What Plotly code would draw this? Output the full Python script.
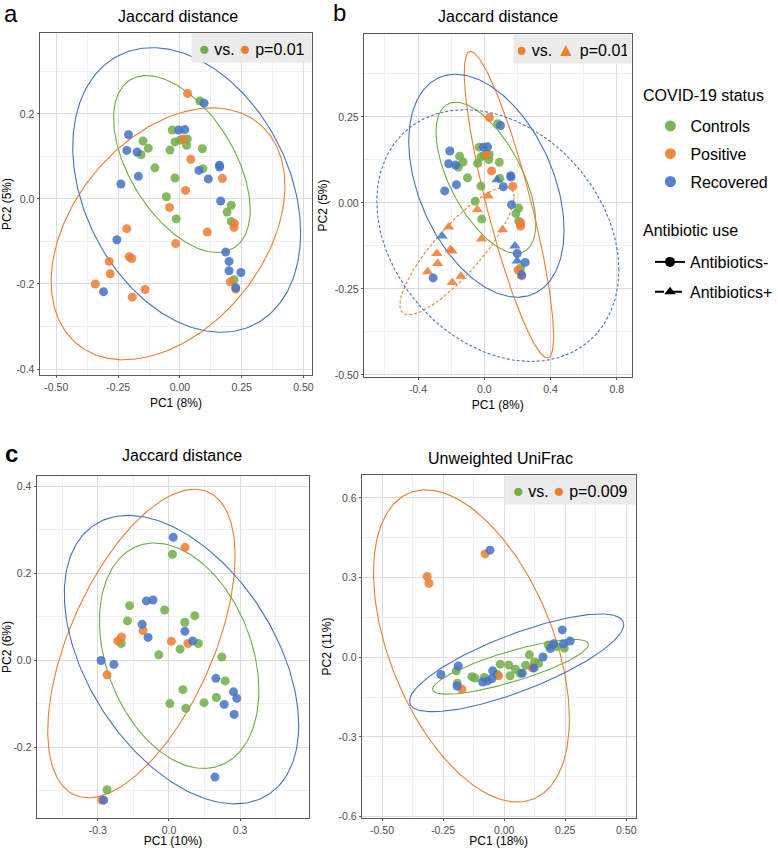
import numpy as np
import plotly.graph_objects as go

GREEN = "#70AD47"
ORANGE = "#ED7D31"
BLUE = "#4472C4"
FONT = "Liberation Sans, Arial, sans-serif"
W, H = 778, 848

# ---- Jaccard PCoA (panels a and b share the same ordination) ----
jac_ctrl_x = [0.081, -0.031, -0.020, 0.000, 0.030, 0.027, -0.040, 0.091, -0.149, -0.128,
              -0.157, -0.101, -0.020, 0.093, -0.055, -0.015, 0.208, 0.191, 0.208, 0.219]
jac_ctrl_y = [0.230, 0.162, 0.134, 0.138, 0.141, 0.126, 0.115, 0.118, 0.136, 0.119,
              0.104, 0.073, 0.049, 0.071, 0.005, -0.047, -0.015, -0.031, -0.053, -0.190]

jac_pos_x = [0.031, 0.044, 0.172, 0.023, -0.042, 0.111, -0.017, -0.215, -0.205, -0.195,
             -0.286, -0.282, -0.342, -0.193, -0.141, 0.221, 0.219, 0.204, 0.226, 0.013]
jac_pos_y = [0.248, 0.093, 0.048, 0.020, -0.020, -0.078, -0.105, -0.070, -0.136, -0.140,
             -0.147, -0.176, -0.200, -0.231, -0.213, -0.058, -0.067, -0.195, -0.212, 0.141]
jac_pos_abx = [0, 0, 0, 1, 1, 1, 1, 1, 1, 1, 1, 1, 1, 1, 1, 0, 0, 0, 0, 0]

jac_rec_x = [0.098, -0.005, 0.020, -0.208, -0.215, -0.173, -0.168, -0.239, 0.160, 0.161,
             0.077, 0.115, 0.165, -0.255, 0.185, 0.199, 0.199, 0.247, -0.309, 0.226]
jac_rec_y = [0.225, 0.162, 0.163, 0.151, 0.114, 0.110, 0.053, 0.035, 0.079, 0.075,
             0.067, 0.047, -0.005, -0.096, -0.125, -0.147, -0.169, -0.173, -0.218, -0.209]
jac_rec_abx = [0, 0, 0, 0, 0, 0, 0, 0, 0, 0, 1, 0, 0, 1, 1, 0, 1, 0, 0, 0]

# ---- panel c, Jaccard ----
cj_ctrl_x = [0.015, -0.166, -0.018, -0.175, 0.109, 0.067, -0.201, 0.124, 0.047, -0.043,
             0.223, 0.237, 0.059, 0.004, 0.071, 0.148, 0.200, -0.261]
cj_ctrl_y = [0.243, 0.125, 0.115, 0.090, 0.102, 0.087, 0.038, 0.038, 0.025, 0.012,
             0.007, -0.048, -0.068, -0.100, -0.111, -0.098, -0.086, -0.298]
cj_pos_x = [0.068, -0.109, -0.200, -0.216, 0.010, 0.080, -0.261, -0.283]
cj_pos_y = [0.259, 0.068, 0.053, 0.044, 0.043, 0.038, -0.034, -0.322]
cj_rec_x = [0.018, -0.095, -0.067, -0.113, -0.088, 0.067, 0.100, -0.286, -0.232, 0.198,
            0.272, 0.286, 0.233, 0.275, 0.194, -0.275]
cj_rec_y = [0.282, 0.136, 0.138, 0.082, 0.052, 0.066, 0.044, -0.001, -0.010, -0.042,
            -0.073, -0.088, -0.102, -0.125, -0.269, -0.322]

# ---- panel c, unweighted UniFrac ----
cu_ctrl_x = [-0.196, -0.192, -0.132, -0.119, -0.081, -0.030, -0.016, 0.019, 0.024, 0.046,
             0.065, 0.088, 0.103, 0.124, 0.141, 0.181, 0.214, 0.246]
cu_ctrl_y = [-0.051, -0.098, -0.073, -0.078, -0.076, -0.064, -0.026, -0.029, -0.070, -0.045,
             -0.060, -0.030, 0.009, -0.018, -0.023, 0.046, 0.040, 0.035]
cu_pos_x = [-0.078, -0.315, -0.308, -0.173, -0.023, 0.115]
cu_pos_y = [0.389, 0.304, 0.278, -0.120, -0.070, -0.040]
cu_rec_x = [-0.058, 0.238, -0.259, -0.188, -0.193, -0.088, -0.068, -0.050, -0.047, 0.074,
            0.122, 0.159, 0.189, 0.203, 0.243, 0.270]
cu_rec_y = [0.403, 0.103, -0.065, -0.033, -0.108, -0.093, -0.089, -0.080, -0.051, -0.060,
            -0.040, 0.001, 0.033, 0.051, 0.051, 0.061]

# ellipses: centre x, centre y, half width, half height, y offset of rightmost point
ell_a_ctrl = [0.008, 0.082, 0.2765, 0.208, -0.1075]
ell_a_pos = [-0.048, -0.082, 0.473, 0.296, 0.112]
ell_a_rec = [0.0275, 0.021, 0.461, 0.3345, -0.101]
ell_b_ctrl = [0.010, 0.073, 0.3016, 0.2196, -0.1327]
ell_b_rec = [0.013, 0.050, 0.469, 0.324, -0.129]
ell_b_pos = [0.149, -0.005, 0.270, 0.4455, -0.3827]
ell_b_pos_abx = [-0.165, -0.1395, 0.345, 0.1858, 0.1569]
ell_b_rec_abx = [0.082, -0.095, 0.731, 0.3658, -0.100]
ell_cj_ctrl = [0.043, 0.010, 0.336, 0.259, -0.080]
ell_cj_rec = [0.053, 0.001, 0.494, 0.3315, -0.151]
ell_cj_pos = [-0.116, 0.038, 0.395, 0.3546, 0.201]
ell_cu_ctrl = [0.026, -0.036, 0.319, 0.103, 0.084]
ell_cu_rec = [0.051, -0.021, 0.4385, 0.184, 0.144]
ell_cu_pos = [-0.134, 0.0425, 0.401, 0.5875, -0.275]


def ellipse(p):
    cx, cy, hw, hh, dyr = p
    t = np.linspace(0, 2 * np.pi, 240)
    c = np.sqrt(max(hh ** 2 - dyr ** 2, 0))
    return cx + hw * np.cos(t), cy + dyr * np.cos(t) + c * np.sin(t)


def pick(vals, flags, f):
    return [v for v, g in zip(vals, flags) if g == f]


fig = go.Figure()


def add_ell(p, color, ax, dash="solid"):
    ex, ey = ellipse(p)
    fig.add_trace(go.Scatter(x=ex, y=ey, mode="lines", line=dict(color=color, width=1.1, dash=dash),
                             xaxis="x" + ax, yaxis="y" + ax, showlegend=False, hoverinfo="skip"))


def add_pts(x, y, color, ax, symbol="circle"):
    fig.add_trace(go.Scatter(x=x, y=y, mode="markers", xaxis="x" + ax, yaxis="y" + ax,
                             marker=dict(color=color, size=9 if symbol == "circle" else 10,
                                         symbol=symbol, opacity=0.85, line=dict(width=0)),
                             showlegend=False))


# panel a
add_ell(ell_a_ctrl, GREEN, "")
add_ell(ell_a_pos, ORANGE, "")
add_ell(ell_a_rec, BLUE, "")
add_pts(jac_ctrl_x, jac_ctrl_y, GREEN, "")
add_pts(jac_pos_x, jac_pos_y, ORANGE, "")
add_pts(jac_rec_x, jac_rec_y, BLUE, "")

# panel b
add_ell(ell_b_ctrl, GREEN, "2")
add_ell(ell_b_pos, ORANGE, "2")
add_ell(ell_b_rec, BLUE, "2")
add_ell(ell_b_pos_abx, ORANGE, "2", "3px,2px")
add_ell(ell_b_rec_abx, BLUE, "2", "3px,2px")
add_pts(jac_ctrl_x, jac_ctrl_y, GREEN, "2")
add_pts(pick(jac_pos_x, jac_pos_abx, 0), pick(jac_pos_y, jac_pos_abx, 0), ORANGE, "2")
add_pts(pick(jac_pos_x, jac_pos_abx, 1), pick(jac_pos_y, jac_pos_abx, 1), ORANGE, "2", "triangle-up")
add_pts(pick(jac_rec_x, jac_rec_abx, 0), pick(jac_rec_y, jac_rec_abx, 0), BLUE, "2")
add_pts(pick(jac_rec_x, jac_rec_abx, 1), pick(jac_rec_y, jac_rec_abx, 1), BLUE, "2", "triangle-up")

# panel c left
add_ell(ell_cj_ctrl, GREEN, "3")
add_ell(ell_cj_pos, ORANGE, "3")
add_ell(ell_cj_rec, BLUE, "3")
add_pts(cj_ctrl_x, cj_ctrl_y, GREEN, "3")
add_pts(cj_pos_x, cj_pos_y, ORANGE, "3")
add_pts(cj_rec_x, cj_rec_y, BLUE, "3")

# panel c right
add_ell(ell_cu_ctrl, GREEN, "4")
add_ell(ell_cu_pos, ORANGE, "4")
add_ell(ell_cu_rec, BLUE, "4")
add_pts(cu_ctrl_x, cu_ctrl_y, GREEN, "4")
add_pts(cu_pos_x, cu_pos_y, ORANGE, "4")
add_pts(cu_rec_x, cu_rec_y, BLUE, "4")

# legend entries
for name, col in [("Controls", GREEN), ("Positive", ORANGE), ("Recovered", BLUE)]:
    fig.add_trace(go.Scatter(x=[None], y=[None], mode="markers", name=name, legend="legend",
                             legendgroup=name, marker=dict(color=col, size=11, opacity=0.9)))
for name, sym, dash in [("Antibiotics-", "circle", "solid"), ("Antibiotics+", "triangle-up", "dash")]:
    fig.add_trace(go.Scatter(x=[None], y=[None], mode="lines+markers", name=name, legend="legend2",
                             legendgroup=name, line=dict(color="black", width=2, dash=dash),
                             marker=dict(color="black", size=10, symbol=sym)))


def px_x(p):
    return p / W


def px_y(p):
    return 1 - p / H


def axis(dom, rng, ticks, labels, title, minor_step, anchor, standoff):
    return dict(domain=dom, range=rng, tickmode="array", tickvals=ticks, ticktext=labels,
                showgrid=True, gridcolor="#DCDCDC", gridwidth=1, zeroline=False,
                showline=True, mirror=True, linecolor="#5A5A5A", linewidth=1,
                ticks="outside", ticklen=2, tickcolor="#5A5A5A",
                tickfont=dict(size=10.5, color="#4D4D4D", family=FONT),
                title=dict(text=title, font=dict(size=12, color="black", family=FONT), standoff=standoff),
                minor=dict(tickmode="linear", tick0=ticks[0] - minor_step, dtick=2 * minor_step,
                           showgrid=True, gridcolor="#F0F0F0", ticks=""),
                anchor=anchor, automargin=False)


fig.update_layout(
    xaxis=axis([px_x(40), px_x(316)], [-0.568, 0.536], [-0.5, -0.25, 0, 0.25, 0.5],
               ["-0.50", "-0.25", "0.00", "0.25", "0.50"], "PC1 (8%)", 0.125, "y", 7),
    yaxis=axis([px_y(375), px_y(33)], [-0.414, 0.39], [-0.4, -0.2, 0, 0.2],
               ["-0.4", "-0.2", "0.0", "0.2"], "PC2 (5%)", 0.1, "x", 4),
    xaxis2=axis([px_x(368), px_x(639)], [-0.728, 0.89], [-0.4, 0, 0.4, 0.8],
                ["-0.4", "0.0", "0.4", "0.8"], "PC1 (8%)", 0.2, "y2", 7),
    yaxis2=axis([px_y(377), px_y(34)], [-0.506, 0.491], [-0.5, -0.25, 0, 0.25],
                ["-0.50", "-0.25", "0.00", "0.25"], "PC2 (5%)", 0.125, "x2", 4),
    xaxis3=axis([px_x(37), px_x(313)], [-0.558, 0.592], [-0.3, 0, 0.3],
                ["-0.3", "0.0", "0.3"], "PC1 (10%)", 0.15, "y3", 7),
    yaxis3=axis([px_y(818), px_y(476)], [-0.363, 0.423], [-0.2, 0, 0.2, 0.4],
                ["-0.2", "0.0", "0.2", "0.4"], "PC2 (6%)", 0.1, "x3", 4),
    xaxis4=axis([px_x(366), px_x(643)], [-0.583, 0.538], [-0.5, -0.25, 0, 0.25, 0.5],
                ["-0.50", "-0.25", "0.00", "0.25", "0.50"], "PC1 (18%)", 0.125, "y4", 7),
    yaxis4=axis([px_y(818), px_y(475)], [-0.605, 0.686], [-0.6, -0.3, 0, 0.3, 0.6],
                ["-0.6", "-0.3", "0.0", "0.3", "0.6"], "PC2 (11%)", 0.15, "x4", 4),
    width=W, height=H, margin=dict(l=0, r=0, t=0, b=0),
    plot_bgcolor="white", paper_bgcolor="white",
    font=dict(family=FONT, color="black"),
    legend=dict(x=px_x(658), y=px_y(109), xanchor="left", yanchor="top",
                font=dict(size=16), tracegroupgap=4, bgcolor="rgba(0,0,0,0)"),
    legend2=dict(x=px_x(658), y=px_y(245), xanchor="left", yanchor="top",
                 font=dict(size=16), tracegroupgap=6, bgcolor="rgba(0,0,0,0)"),
)

# titles, legend headings and panel letters
for txt, cx, cy, anc in [("Jaccard distance", 180, 17, "center"), ("Jaccard distance", 504, 17, "center"),
                         ("Jaccard distance", 184, 455, "center"), ("Unweighted UniFrac", 506, 458, "center"),
                         ("COVID-19 status", 649, 95, "left"), ("Antibiotic use", 649, 230, "left")]:
    fig.add_annotation(text=txt, x=px_x(cx), y=px_y(cy), xref="paper", yref="paper",
                       xanchor=anc, yanchor="middle", showarrow=False, font=dict(size=16, family=FONT))
for txt, cx, cy, bold in [("a", 11, 13, False), ("b", 343, 12, False), ("c", 12, 453, True)]:
    fig.add_annotation(text="<b>%s</b>" % txt if bold else txt, x=px_x(cx), y=px_y(cy),
                       xref="paper", yref="paper", xanchor="center", yanchor="middle",
                       showarrow=False, font=dict(size=24, family=FONT))


# test boxes
def dot(col, ch="●"):
    return '<span style="color:%s;font-size:19px">%s</span>' % (col, ch)


for ax, txt, bw in [("", dot(GREEN) + " vs. " + dot(ORANGE) + " p=0.01", 111),
                    ("2", dot(ORANGE) + " vs. " + dot(ORANGE, "▲") + " p=0.01", 109),
                    ("4", dot(GREEN) + " vs. " + dot(ORANGE) + " p=0.009", 122)]:
    fig.add_annotation(text=txt, x=1, y=1, xref="x%s domain" % ax, yref="y%s domain" % ax,
                       xanchor="right", yanchor="top", showarrow=False, bgcolor="#EBEBEB",
                       width=bw, height=20, borderpad=4, font=dict(size=16, family=FONT))

fig.write_html("out.html", config={"displayModeBar": False},
               post_script="document.body.style.margin='0px';")
